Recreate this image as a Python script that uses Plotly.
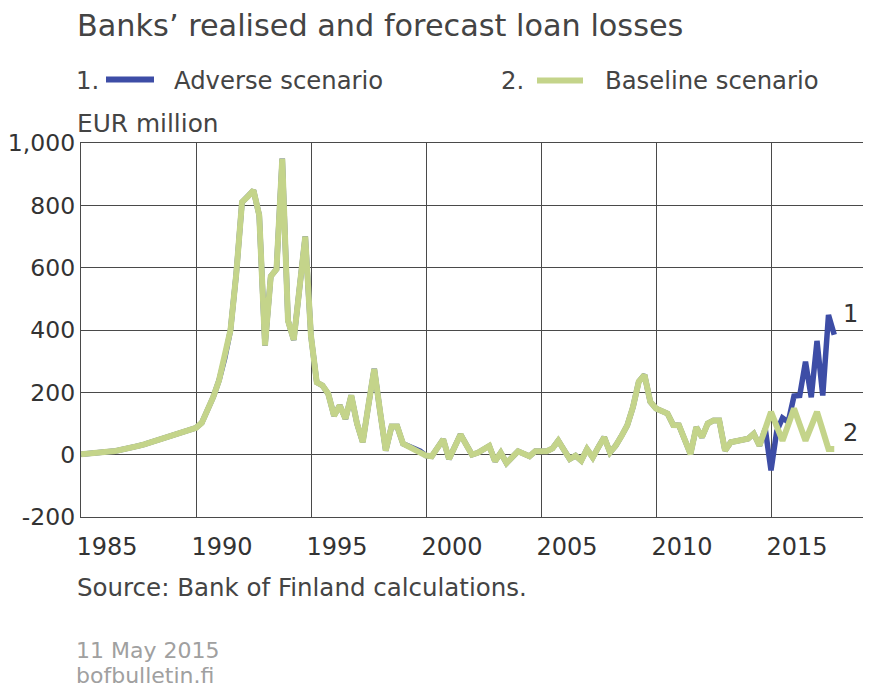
import plotly.graph_objects as go

# Quarterly loan losses, EUR million, 1985Q1 .. 2017Q4
baseline = [
    1, 2, 4, 6,            # 1985
    8, 10, 12, 15,         # 1986
    19, 23, 28, 33,        # 1987
    39, 46, 53, 60,        # 1988
    66, 72, 78, 82,        # 1989
    86, 102, 140, 185,     # 1990
    238, 310, 400, 580,    # 1991
    810, 828, 848, 768,    # 1992
    350, 572, 595, 950,    # 1993
    430, 368, 530, 700,    # 1994
    380, 232, 222, 195,    # 1995
    125, 158, 115, 190,    # 1996
    100, 40, 160, 275,     # 1997
    140, 13, 90, 90,       # 1998
    35, 26, 18, 11,        # 1999
    -3, -5, 22, 49,        # 2000
    -14, 25, 65, 32,       # 2001
    0, 6, 17, 28,          # 2002
    -21, 6, -27, -8,       # 2003
    11, 3, -5, 11,         # 2004
    11, 11, 20, 45,        # 2005
    15, -14, -3, -19,      # 2006
    18, -9, 25, 56,        # 2007
    7, 29, 60, 94,         # 2008
    153, 234, 256, 170,    # 2009
    148, 140, 132, 95,     # 2010
    94, 48, 2, 88,         # 2011
    56, 100, 110, 110,     # 2012
    13, 40, 43, 47,        # 2013
    51, 67, 29, 83,        # 2014
    137, 91, 45, 96,       # 2015
    148, 96, 45, 91,       # 2016
    137, 78, 18, 18,       # 2017
]

adverse_forecast = [
    -50, 75, 118, 105,     # 2015
    188, 190, 298, 184,    # 2016
    365, 190, 448, 385,    # 2017
]
adverse = baseline[:-len(adverse_forecast)] + adverse_forecast

quarters = [1985 + q / 4 for q in range(len(baseline))]

x_ticks = [1985, 1990, 1995, 2000, 2005, 2010, 2015]
x_tick_labels = ["1985", "1990", "1995", "2000", "2005", "2010", "2015"]
y_ticks = [-200, 0, 200, 400, 600, 800, 1000]
y_tick_labels = ["-200", "0", "200", "400", "600", "800", "1,000"]

BLUE = "#3D4DA6"
GREEN = "#C4D48A"
GRID = "#4A4A4A"
FONT = "DejaVu Sans"

# the page body adds an 8px offset; size the figure to fill the 871x690 window
OX, OY = 8, 8
W, H = 871 - OX, 690 - OY
ML, MR, MT, MB = 73, 0, 135, 173
PW = W - ML - MR
PH = H - MT - MB


def xp(sx):
    return (sx - OX - ML) / PW


def yp(sy):
    return (H - MB - (sy - OY)) / PH


fig = go.Figure()
fig.add_trace(go.Scatter(x=quarters, y=adverse, mode="lines",
                         line=dict(color=BLUE, width=5.5),
                         name="Adverse scenario", showlegend=False))
fig.add_trace(go.Scatter(x=quarters, y=baseline, mode="lines",
                         line=dict(color=GREEN, width=6),
                         name="Baseline scenario", showlegend=False))

fig.update_layout(
    width=W, height=H,
    margin=dict(l=ML, r=MR, t=MT, b=MB, pad=0),
    paper_bgcolor="white", plot_bgcolor="white",
    font=dict(family=FONT, color="#333333"),
    xaxis=dict(range=[1985, 1985 + PW / 23.0], tickvals=x_ticks, ticktext=x_tick_labels,
               showgrid=True, gridcolor=GRID, gridwidth=1.4,
               showline=True, mirror=True, linecolor=GRID, linewidth=1.4,
               zeroline=False, ticks="", ticklabelshift=26, ticklabelstandoff=8,
               tickfont=dict(size=24, color="#333333", family=FONT)),
    yaxis=dict(range=[-200, 1000], tickvals=y_ticks, ticktext=y_tick_labels,
               showgrid=True, gridcolor=GRID, gridwidth=1.4,
               showline=True, linecolor=GRID, linewidth=1.4,
               zeroline=False, ticks="", ticklabelstandoff=0,
               tickfont=dict(size=23.5, color="#333333", family=FONT)),
)


def note(text, sx, sy, size, color="#444444", anchor="left"):
    fig.add_annotation(text=text, x=xp(sx), y=yp(sy), xref="paper", yref="paper",
                       xanchor=anchor, yanchor="middle", showarrow=False,
                       font=dict(size=size, color=color, family=FONT))


note("Banks’ realised and forecast loan losses", 75, 25, 30.3)
note("1.", 74, 80, 24.3)
note("Adverse scenario", 172, 80, 24.3)
note("2.", 499, 80, 24.3)
note("Baseline scenario", 603, 80, 24.3)
note("EUR million", 75, 123, 24.8)
note("Source: Bank of Finland calculations.", 75, 587, 24.5)
note("11 May 2015", 74, 650, 22, color="#A0A0A0")
note("bofbulletin.fi", 74, 675, 22, color="#A0A0A0")
note("1", 850, 314, 24, color="#333333", anchor="center")
note("2", 850, 433, 24, color="#333333", anchor="center")

fig.add_shape(type="line", xref="paper", yref="paper",
              x0=xp(106), x1=xp(154), y0=yp(79.5), y1=yp(79.5),
              line=dict(color=BLUE, width=6))
fig.add_shape(type="line", xref="paper", yref="paper",
              x0=xp(537), x1=xp(583), y0=yp(80.5), y1=yp(80.5),
              line=dict(color=GREEN, width=6))

fig.write_html("out.html")
